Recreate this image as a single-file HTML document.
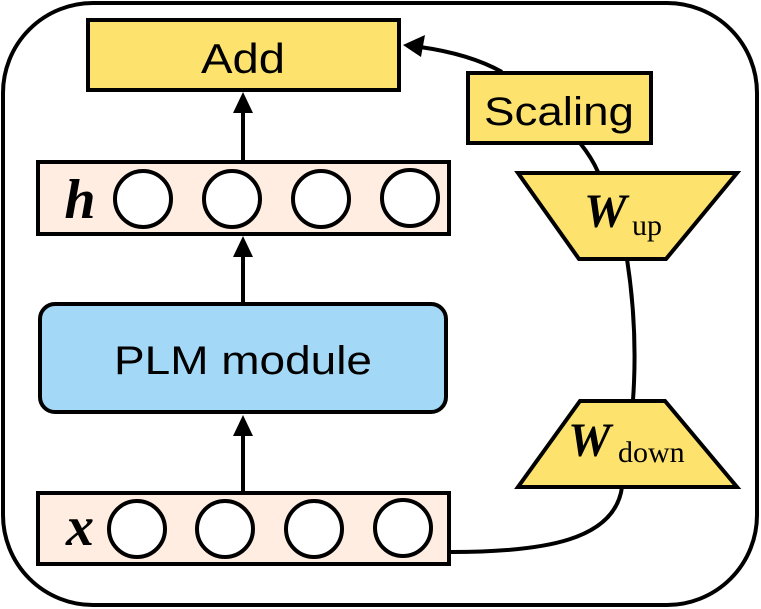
<!DOCTYPE html>
<html><head><meta charset="utf-8"><style>html,body{margin:0;padding:0;background:#fff;}svg{display:block;}</style></head>
<body>
<svg width="761" height="609" viewBox="0 0 761 609" xmlns="http://www.w3.org/2000/svg">
<rect x="3" y="3" width="754" height="602" rx="90" ry="90" fill="#fff" stroke="#000" stroke-width="4"/>
<!-- Add -->
<rect x="88" y="20" width="311" height="70" fill="#FDE36D" stroke="#000" stroke-width="4"/>
<text x="243" y="73" font-family="Liberation Sans, sans-serif" font-size="42" text-anchor="middle" textLength="84" lengthAdjust="spacingAndGlyphs">Add</text>
<!-- h row -->
<rect x="38" y="162" width="411" height="72" fill="#FEEDE0" stroke="#000" stroke-width="4"/>
<text x="80" y="218" font-family="Liberation Serif, serif" font-size="56" font-style="italic" font-weight="bold" text-anchor="middle">h</text>
<g fill="#fff" stroke="#000" stroke-width="4">
<circle cx="143" cy="199" r="28"/><circle cx="232" cy="199" r="28"/><circle cx="321" cy="199" r="28"/><circle cx="410" cy="198" r="28"/>
</g>
<!-- PLM -->
<rect x="40" y="304" width="406" height="108" rx="15" ry="15" fill="#A3D8F6" stroke="#000" stroke-width="4"/>
<text x="243" y="374" font-family="Liberation Sans, sans-serif" font-size="40" text-anchor="middle" textLength="258" lengthAdjust="spacingAndGlyphs">PLM module</text>
<!-- x row -->
<rect x="38" y="493" width="411" height="71" fill="#FEEDE0" stroke="#000" stroke-width="4"/>
<text x="80" y="545" font-family="Liberation Serif, serif" font-size="56" font-style="italic" font-weight="bold" text-anchor="middle">x</text>
<g fill="#fff" stroke="#000" stroke-width="4">
<circle cx="137" cy="529" r="28"/><circle cx="225" cy="529" r="28"/><circle cx="314" cy="529" r="28"/><circle cx="403" cy="528" r="28"/>
</g>
<!-- vertical arrows -->
<g stroke="#000" stroke-width="4" fill="none">
<line x1="243" y1="160" x2="243" y2="110"/>
<line x1="243" y1="302" x2="243" y2="254"/>
<line x1="243" y1="491" x2="243" y2="433"/>
</g>
<g fill="#000">
<polygon points="243,92 233,113 253,113"/>
<polygon points="243,236 233,257 253,257"/>
<polygon points="243,415 233,436 253,436"/>
<polygon points="403,45 425,35 421,57"/>
</g>
<!-- right side connectors -->
<g stroke="#000" stroke-width="4" fill="none">
<path d="M502,72 Q470,54 420,47"/>
<path d="M580,143 Q592,158 598,172"/>
<path d="M627,259 Q638,330 633,400"/>
<path d="M622,487 C615,540 545,552 451,552"/>
</g>
<!-- Scaling -->
<rect x="468" y="73" width="183" height="70" fill="#FDE36D" stroke="#000" stroke-width="4"/>
<text x="559" y="125" font-family="Liberation Sans, sans-serif" font-size="40" text-anchor="middle" textLength="150" lengthAdjust="spacingAndGlyphs">Scaling</text>
<!-- W_up -->
<polygon points="518,173 737,173 666,259 579,259" fill="#FDE36D" stroke="#000" stroke-width="4"/>
<text x="584" y="227" font-family="Liberation Serif, serif" font-size="48" font-style="italic" font-weight="bold">W</text>
<text x="632" y="235" font-family="Liberation Serif, serif" font-size="30">up</text>
<!-- W_down -->
<polygon points="580,401 665,401 737,487 518,487" fill="#FDE36D" stroke="#000" stroke-width="4"/>
<text x="568" y="456" font-family="Liberation Serif, serif" font-size="48" font-style="italic" font-weight="bold">W</text>
<text x="618" y="462" font-family="Liberation Serif, serif" font-size="30">down</text>
</svg>
</body></html>
